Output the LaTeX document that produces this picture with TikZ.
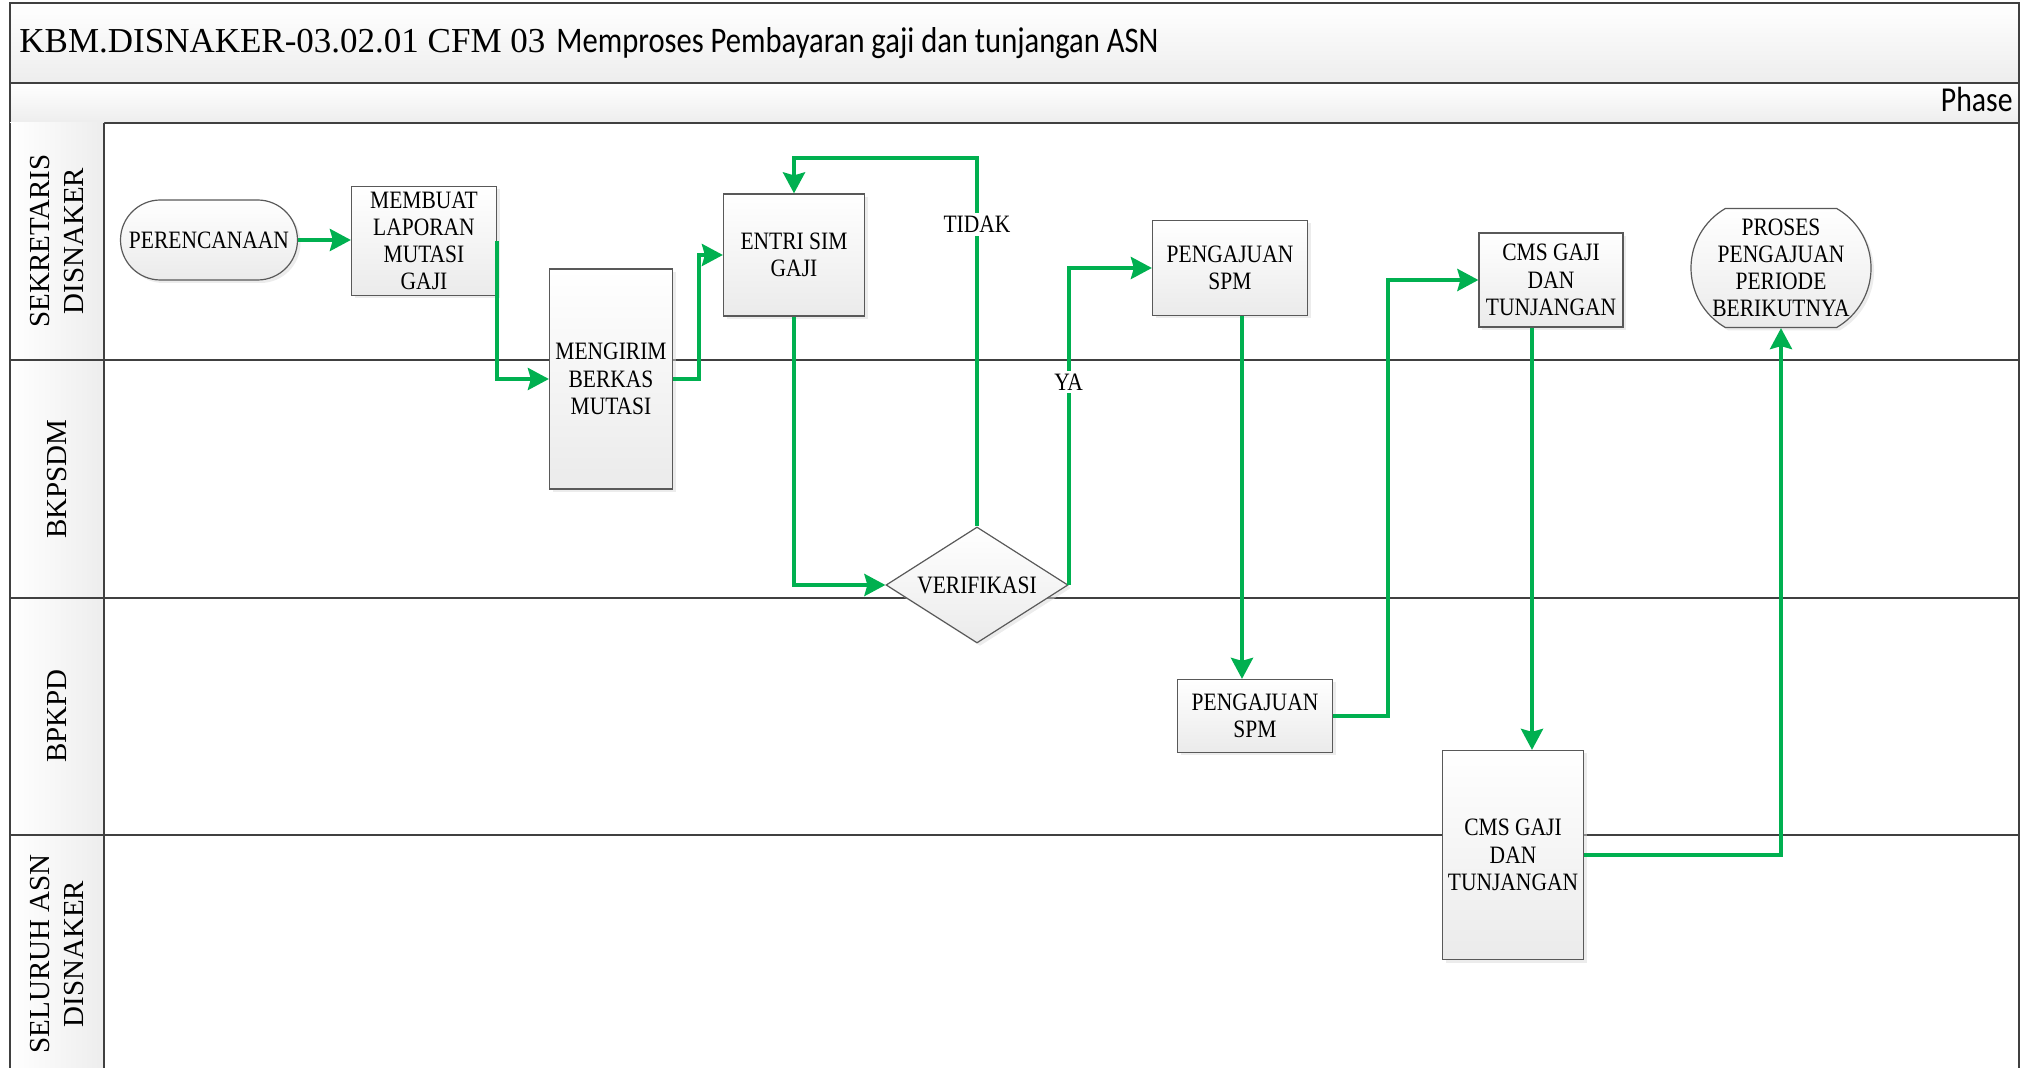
\documentclass[tikz,border=0pt]{standalone}
\usepackage{fontspec}
\setmainfont{Liberation Serif}
\newfontfamily\boxfont[FakeStretch=0.86]{Liberation Serif}
\newfontfamily\calfont[FakeStretch=0.85]{Carlito}
\usetikzlibrary{shapes.geometric, shapes.misc, arrows.meta, shadows}

\definecolor{flowgreen}{HTML}{00B050}
\definecolor{framegray}{HTML}{404040}

\begin{document}
\begin{tikzpicture}[
			x=0.5pt, y=-0.5pt,
			proc/.style={rectangle, draw=black!65, line width=0.6pt, top color=white, bottom color=black!8, drop shadow={shadow xshift=1.5pt, shadow yshift=-1.5pt, fill=black!15}, align=center, inner sep=1pt, font=\boxfont\fontsize{12.5}{13.6}\selectfont},
			term/.style={proc, rounded rectangle},
			decide/.style={proc, diamond, aspect=1.6, inner sep=0pt},
			lane/.style={rotate=90, align=center, font=\fontsize{14.5}{17}\selectfont},
			grid/.style={draw=framegray, line width=1.2pt},
			flow/.style={draw=flowgreen, line width=2pt, -{Stealth[length=10.5pt,width=11pt,inset=1.5pt]}},
			lbl/.style={fill=white, inner sep=1.5pt, font=\boxfont\fontsize{12.5}{13.6}\selectfont}
			]
			\useasboundingbox (0,0) rectangle (2029,1068);
			
			% Kepala: judul dan phase
			\shadedraw[grid, top color=white, bottom color=black!7] (10,3) rectangle (2019,83);
			\shadedraw[grid, top color=white, bottom color=black!7] (10,83) rectangle (2019,123);
			\node[anchor=base west, inner sep=0, font=\fontsize{17.5}{22}\selectfont] (kode) at (19,53) {KBM.DISNAKER-03.02.01 CFM 03};
			\node[anchor=base west, inner sep=0, font=\calfont\fontsize{18}{22}\selectfont] (judul) at (556,53) {Memproses Pembayaran gaji dan tunjangan ASN};
			\node[anchor=base east, inner sep=0, font=\calfont\fontsize{17.5}{20}\selectfont] (fase) at (2013,112) {Phase};
			
			% Kolom nama lajur
			\shade[left color=white, right color=black!7] (10,123) rectangle (104,1075);
			\draw[grid] (10,123) -- (10,1075);
			\draw[grid] (104,123) -- (104,1075);
			\draw[grid] (2019,123) -- (2019,1075);
			\foreach \y in {360,598,835}
				\draw[grid] (10,\y) -- (2019,\y);
			
			\node[lane] (sek) at (57,241) {SEKRETARIS\\DISNAKER};
			\node[lane] (bkpsdm) at (57,479) {BKPSDM};
			\node[lane] (bpkpd) at (57,716) {BPKPD};
			\node[lane] (asn) at (57,954) {SELURUH ASN\\DISNAKER};
			
			% Langkah proses
			\node[term, minimum width=90.5pt, minimum height=40pt] (pren) at (209,240) {PERENCANAAN};
			\node[proc, minimum width=72.5pt, minimum height=54.5pt] (membuat) at (424,241) {MEMBUAT\\LAPORAN\\MUTASI\\GAJI};
			\node[proc, minimum width=61.5pt, minimum height=110pt] (mengirim) at (611,379) {MENGIRIM\\BERKAS\\MUTASI};
			\node[proc, minimum width=70.5pt, minimum height=61pt] (entri) at (794,255) {ENTRI SIM\\GAJI};
			\node[decide, minimum width=91pt, minimum height=58pt] (verif) at (977,585) {VERIFIKASI};
			\node[proc, minimum width=77.5pt, minimum height=47.5pt] (spmA) at (1230,268) {PENGAJUAN\\SPM};
			\node[proc, minimum width=77.5pt, minimum height=36.5pt] (spmB) at (1255,716) {PENGAJUAN\\SPM};
			\node[proc, minimum width=72pt, minimum height=47pt] (cmsA) at (1551,280) {CMS GAJI\\DAN\\TUNJANGAN};
			\node[proc, minimum width=70.5pt, minimum height=104.5pt] (cmsB) at (1513,855) {CMS GAJI\\DAN\\TUNJANGAN};
			\node[term, rounded rectangle arc length=120, inner xsep=0pt, minimum width=90pt, minimum height=59.5pt] (proses) at (1781,268) {PROSES\\PENGAJUAN\\PERIODE\\BERIKUTNYA};
			
			% Perencanaan -> Membuat laporan
			\draw[flow] (pren.east) -- (pren.east -| membuat.west);
			% Membuat laporan -> Mengirim berkas
			\draw[flow] (membuat.east) |- (mengirim.west);
			% Mengirim berkas -> Entri SIM
			\draw[flow] (mengirim.east) -- ++(26,0) |- (entri.west);
			% Entri SIM -> Verifikasi
			\draw[flow] (entri.south) |- (verif.west);
			% Verifikasi tidak lolos, kembali ke entri
			\draw[flow] (verif.north) -- ++(0,-368) node[lbl, pos=0.82] {TIDAK} -| (entri.north);
			% Verifikasi lolos -> Pengajuan SPM
			\draw[flow] (verif.east) |- node[lbl, pos=0.32] {YA} (spmA.west);
			% SPM ke BPKPD
			\draw[flow] ([xshift=6pt]spmA.south) -- ([xshift=6pt]spmA.south |- spmB.north);
			\draw[flow] (spmB.east) -- ++(55,0) |- (cmsA.west);
			% CMS -> seluruh ASN
			\draw[flow] ([xshift=-9.5pt]cmsA.south) -- ([xshift=-9.5pt]cmsA.south |- cmsB.north);
			\draw[flow] (cmsB.east) -| (proses.south);
		\end{tikzpicture}
\end{document}
